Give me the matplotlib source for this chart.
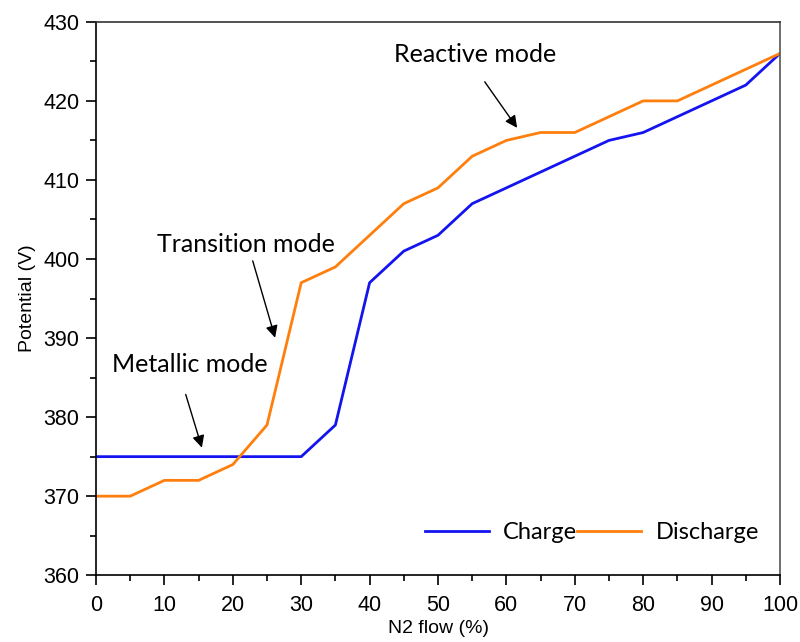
import matplotlib.pyplot as plt
from matplotlib.ticker import MultipleLocator

# N2 flow (%) and measured potentials (V)
flow = [0, 5, 10, 15, 20, 25, 30, 35, 40, 45, 50, 55, 60, 65, 70, 75, 80, 85, 90, 95, 100]
charge = [375, 375, 375, 375, 375, 375, 375, 379, 397, 401, 403, 407, 409, 411, 413, 415, 416, 418, 420, 422, 426]
discharge = [370, 370, 372, 372, 374, 379, 397, 399, 403, 407, 409, 413, 415, 416, 416, 418, 420, 420, 422, 424, 426]

fig = plt.figure(figsize=(8, 6.42), dpi=100)
ax = fig.add_axes([0.12, 0.104, 0.855, 0.862])

ax.plot(flow, charge, color='#1414f0', lw=2, label='Charge')
ax.plot(flow, discharge, color='#ff7f0e', lw=2, label='Discharge')

ax.set_xlim(0, 100)
ax.set_ylim(360, 430)
ax.xaxis.set_major_locator(MultipleLocator(10))
ax.xaxis.set_minor_locator(MultipleLocator(5))
ax.yaxis.set_major_locator(MultipleLocator(10))
ax.yaxis.set_minor_locator(MultipleLocator(5))
ax.tick_params(which='major', direction='out', length=7, width=1.2, labelsize=15.5, pad=5)
ax.tick_params(which='minor', direction='out', length=4, width=1.2)
ax.tick_params(axis='x', which='major', pad=7)
for lab in ax.get_xticklabels() + ax.get_yticklabels():
    lab.set_fontfamily('Liberation Sans')
for s in ax.spines.values():
    s.set_linewidth(1.2)
ax.spines['top'].set_color('#333333')
ax.spines['right'].set_color('#555555')

ax.set_xlabel('N2 flow (%)', fontsize=14, family='Liberation Sans', labelpad=3)
ax.set_ylabel('Potential (V)', fontsize=14, family='Liberation Sans', labelpad=5)

tfont = dict(fontsize=18, family='Lato', ha='center', va='center')
aprops = dict(arrowstyle='-|>', color='black', lw=1, mutation_scale=18)
ax.annotate('', xy=(15.6, 375.8), xytext=(13.0, 383.2), arrowprops=aprops)
ax.text(13.7, 386.6, 'Metallic mode', **tfont)
ax.annotate('', xy=(26.3, 389.7), xytext=(22.8, 400.1), arrowprops=aprops)
ax.text(21.9, 401.8, 'Transition mode', **tfont)
ax.annotate('', xy=(61.8, 416.3), xytext=(56.6, 422.7), arrowprops=aprops)
ax.text(55.4, 425.9, 'Reactive mode', **tfont)

ax.legend(loc='lower right', bbox_to_anchor=(1.0, 0.02), ncol=2, frameon=False,
          prop={'family': 'Lato', 'size': 17}, handlelength=2.7, columnspacing=0.0,
          handletextpad=0.6)

fig.savefig('out.png', dpi=100)
